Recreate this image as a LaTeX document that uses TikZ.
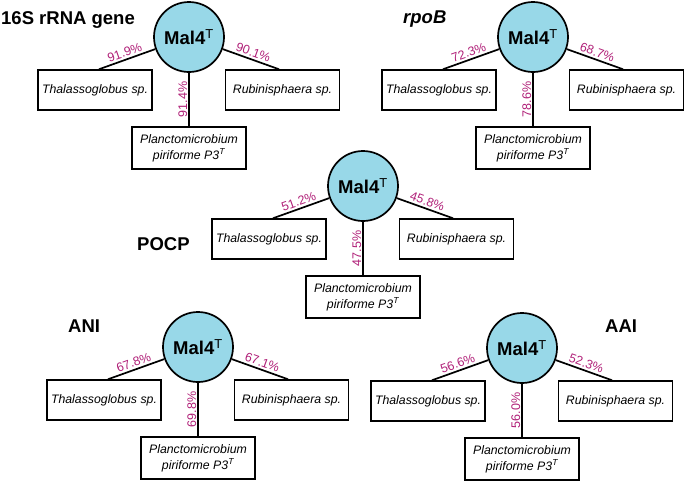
\documentclass[tikz,border=0pt]{standalone}
\usepackage{fontspec}
\setmainfont{Liberation Sans}
\definecolor{pct}{RGB}{176,32,120}
\definecolor{mal}{RGB}{152,216,232}
\tikzset{
 hub/.style={circle,draw,line width=1.7pt,fill=mal,minimum size=70pt,inner sep=0pt,font=\fontsize{18.5}{20}\selectfont\bfseries},
 taxon/.style={draw,line width=1.5pt,minimum width=114pt,minimum height=40pt,inner sep=2pt,align=center,font=\fontsize{12.3}{16}\selectfont\itshape},
 link/.style={line width=1.7pt},
 pctlab/.style={sloped,above,text=pct,inner sep=2pt,font=\fontsize{12.5}{14}\selectfont},
 heading/.style={anchor=base west,inner sep=0pt,font=\fontsize{18.5}{20}\selectfont\bfseries}
}
\newcommand\speciesgroup[6]{%
 \node[hub] (#3c) at (#1,-#2) {Mal4\textsuperscript{\mdseries T}};
 \node[taxon] (#3l) at (#1-94,-#2-53) {Thalassoglobus sp.};
 \node[taxon] (#3r) at (#1+93.5,-#2-53) {Rubinisphaera sp.};
 \node[taxon,minimum height=42pt] (#3b) at (#1,-#2-111) {Planctomicrobium\\piriforme P3\textsuperscript{T}};
 \draw[link] ([xshift=4pt]#3l.north) -- node[pctlab]{#4} (#3c);
 \draw[link] (#3c) -- node[pctlab]{#6} ([xshift=-3.5pt]#3r.north);
 \draw[link] (#3b.north) -- node[pctlab,inner sep=1pt]{#5} (#3c);
}
\begin{document}
\begin{tikzpicture}[x=1pt,y=1pt]
\useasboundingbox (0,0) rectangle (685,-480);
\speciesgroup{189}{37}{a}{91.9\%}{91.4\%}{90.1\%}
\speciesgroup{533}{37}{b}{72.3\%}{78.6\%}{68.7\%}
\speciesgroup{363}{186}{c}{51.2\%}{47.5\%}{45.8\%}
\speciesgroup{198}{347}{d}{67.8\%}{69.8\%}{67.1\%}
\speciesgroup{522}{348}{e}{56.6\%}{56.0\%}{52.3\%}
\node[heading] (t1) at (1,-24) {16S rRNA gene};
\node[heading,font=\fontsize{18.5}{20}\selectfont\bfseries\itshape] (t2) at (403,-23) {rpoB};
\node[heading] (t3) at (137,-250) {POCP};
\node[heading] (t4) at (68,-332) {ANI};
\node[heading] (t5) at (605,-332) {AAI};
\end{tikzpicture}
\end{document}
